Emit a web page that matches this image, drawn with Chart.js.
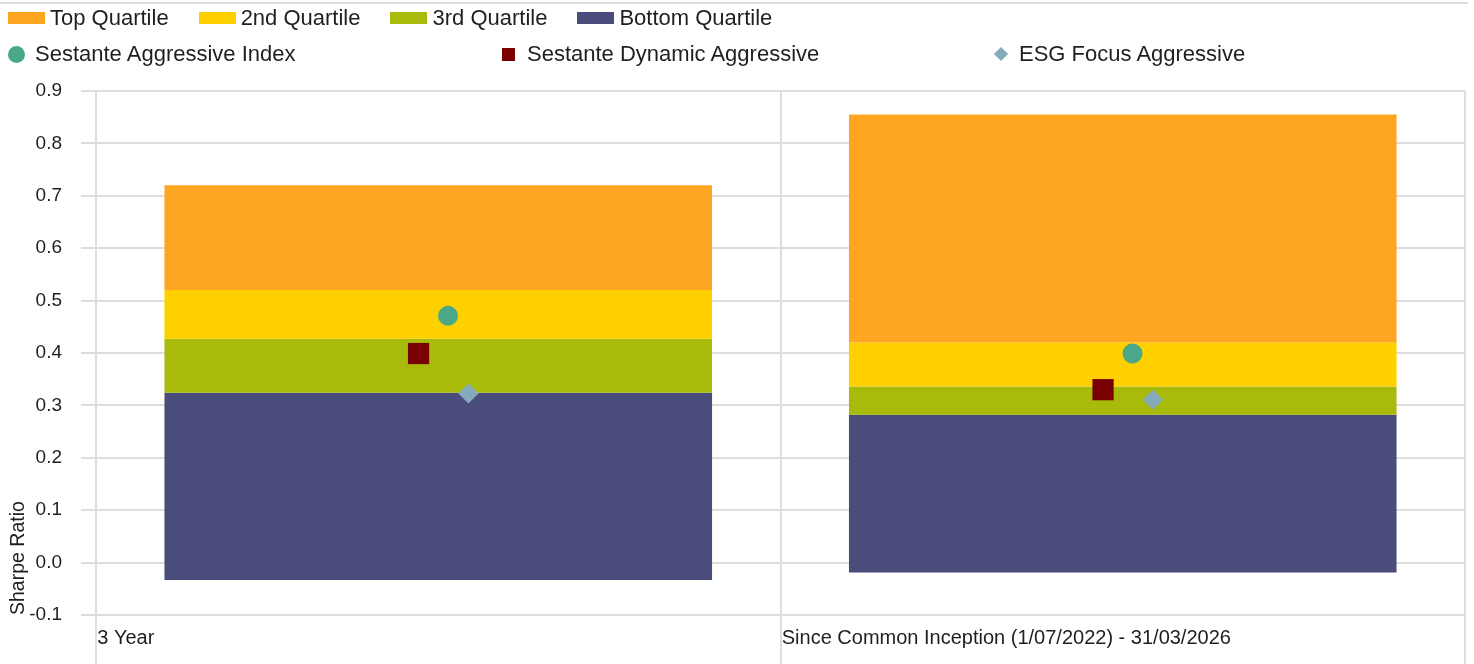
<!DOCTYPE html>
<html>
<head>
<meta charset="utf-8">
<script src="https://cdn.jsdelivr.net/npm/chart.js@4.4.1/dist/chart.umd.min.js"></script>
<style>
body { margin: 0; background: #fff; font-family: "Liberation Sans", Arial, sans-serif; }
#wrap { position: relative; width: 1474px; height: 664px; }
#topline { position: absolute; left: 0; top: 2px; width: 1468px; height: 2px; background: #dcdcdc; }
.row { position: absolute; left: 8px; display: flex; align-items: center; height: 26px; color: #1f1f1f; font-size: 22px; white-space: nowrap; }
#row1 { top: 5px; }
#row2 { top: 41px; }
.qitem { display: flex; align-items: center; margin-right: 30px; }
.qbox { width: 37px; height: 12px; margin-right: 5px; }
.pitem { display: flex; align-items: center; width: 492px; }
.pcell { width: 17px; height: 17px; display: flex; align-items: center; justify-content: center; margin-right: 10px; }
</style>
</head>
<body>
<div id="wrap">
  <canvas id="myChart" width="1474" height="664"></canvas>
  <div id="topline"></div>
  <div class="row" id="row1"></div>
  <div class="row" id="row2"></div>
</div>
<script>
// categories
var categories = ["3 Year", "Since Common Inception (1/07/2022) - 31/03/2026"];

// quartile boundaries (Sharpe ratio)
var topQuartileHigh = [0.72, 0.855];
var secondQuartileHigh = [0.52, 0.42];
var medianLine = [0.427, 0.336];
var thirdQuartileLow = [0.324, 0.282];
var bottomQuartileLow = [-0.033, -0.019];

var quartileNames = ["Top Quartile", "2nd Quartile", "3rd Quartile", "Bottom Quartile"];
var quartileColors = ["#FEA621", "#FFD000", "#A8BA0A", "#4A4C7B"];

// fund / index values
var seriesNames = ["Sestante Aggressive Index", "Sestante Dynamic Aggressive", "ESG Focus Aggressive"];
var aggressiveIndex = [0.471, 0.399];
var dynamicAggressive = [0.399, 0.330];
var esgFocus = [0.3225, 0.311];
var seriesColors = ["#4AA888", "#780000", "#84AABD"];

var yTicks = [-0.1, 0, 0.1, 0.2, 0.3, 0.4, 0.5, 0.6, 0.7, 0.8, 0.9];

// styles
var pointStyles = ["circle", "rect", "rectRot"];
var pointSizes = [10, 15, 10];
var pointShift = [0.0143, -0.0288, 0.0441];
var textColor = "#1f1f1f";
var gridColor = "#dedede";

function range(lo, hi) {
    return lo.map(function (v, i) { return [v, hi[i]]; });
}
var quartileRanges = [
    range(secondQuartileHigh, topQuartileHigh),
    range(medianLine, secondQuartileHigh),
    range(thirdQuartileLow, medianLine),
    range(bottomQuartileLow, thirdQuartileLow)
];
var seriesValues = [aggressiveIndex, dynamicAggressive, esgFocus];

var datasets = [];
seriesNames.forEach(function (name, s) {
    datasets.push({
        type: 'scatter',
        label: name,
        xAxisID: 'xp',
        order: 0,
        data: seriesValues[s].map(function (v, i) { return { x: i + pointShift[s], y: v }; }),
        pointStyle: pointStyles[s],
        pointRadius: pointSizes[s],
        pointHoverRadius: pointSizes[s],
        pointBorderWidth: 0,
        backgroundColor: seriesColors[s],
        borderColor: seriesColors[s]
    });
});
quartileNames.forEach(function (name, q) {
    datasets.push({
        type: 'bar',
        label: name,
        xAxisID: 'x',
        order: 1,
        data: quartileRanges[q],
        backgroundColor: quartileColors[q],
        borderWidth: 0,
        grouped: false,
        barPercentage: 0.8,
        categoryPercentage: 1
    });
});

var ctx = document.getElementById('myChart').getContext('2d');
var chart = new Chart(ctx, {
    type: 'bar',
    data: { labels: categories, datasets: datasets },
    options: {
        responsive: false,
        animation: false,
        layout: { autoPadding: false, padding: { top: 91, right: 9, left: 0, bottom: 0 } },
        plugins: { legend: { display: false }, tooltip: { enabled: false } },
        scales: {
            x: {
                type: 'category',
                offset: true,
                grid: { offset: true, color: gridColor, lineWidth: 2, tickLength: 49 },
                border: { display: false },
                ticks: {
                    align: 'start',
                    labelOffset: -341,
                    padding: -38,
                    maxRotation: 0,
                    autoSkip: false,
                    color: textColor,
                    font: { family: "Liberation Sans", size: 20 }
                },
                afterFit: function (scale) {
                    scale.paddingLeft = 0;
                    scale.paddingRight = 0;
                    scale.height = 49;
                }
            },
            xp: {
                type: 'linear',
                display: false,
                offset: false,
                grid: { offset: false },
                min: -0.5,
                max: 1.5
            },
            y: {
                min: -0.1,
                max: 0.9,
                afterBuildTicks: function (scale) {
                    scale.ticks = yTicks.map(function (v) { return { value: v }; });
                },
                grid: { color: gridColor, lineWidth: 2, tickLength: 15 },
                border: { display: false },
                ticks: {
                    padding: 19,
                    color: textColor,
                    font: { family: "Liberation Sans", size: 19 },
                    callback: function (v) { return Number(v).toFixed(1); }
                },
                title: {
                    display: true,
                    text: 'Sharpe Ratio',
                    align: 'start',
                    color: textColor,
                    padding: { top: 7, bottom: 0 },
                    font: { family: "Liberation Sans", size: 19.5 }
                },
                afterFit: function (scale) {
                    scale.width = 96;
                }
            }
        }
    }
});

// legend rows
var row1 = document.getElementById('row1');
quartileNames.forEach(function (name, q) {
    var item = document.createElement('div');
    item.className = 'qitem';
    var box = document.createElement('div');
    box.className = 'qbox';
    box.style.background = quartileColors[q];
    var txt = document.createElement('span');
    txt.textContent = name;
    item.appendChild(box);
    item.appendChild(txt);
    row1.appendChild(item);
});

var row2 = document.getElementById('row2');
var markerCss = [
    'width:17px;height:17px;border-radius:50%;',
    'width:13px;height:13px;',
    'width:10px;height:10px;transform:rotate(45deg);'
];
seriesNames.forEach(function (name, s) {
    var item = document.createElement('div');
    item.className = 'pitem';
    var cell = document.createElement('div');
    cell.className = 'pcell';
    var mk = document.createElement('div');
    mk.style.cssText = markerCss[s] + 'background:' + seriesColors[s] + ';';
    cell.appendChild(mk);
    var txt = document.createElement('span');
    txt.textContent = name;
    item.appendChild(cell);
    item.appendChild(txt);
    row2.appendChild(item);
});
</script>
</body>
</html>
